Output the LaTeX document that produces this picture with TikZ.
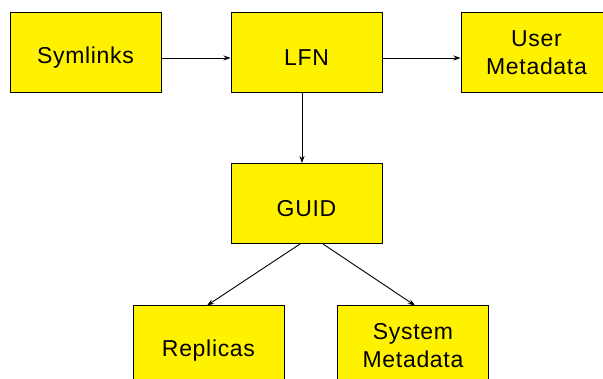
\documentclass[tikz,border=0pt]{standalone}
\usepackage{fontspec}
\setmainfont{Liberation Sans}[LetterSpace=3]
\usetikzlibrary{arrows.meta}
\newcommand{\lowtext}[1]{\raisebox{-5pt}[\height][\depth]{#1}}
\begin{document}
\begin{tikzpicture}[x=1pt,y=-1pt,
  box/.style={draw=black, line width=1pt, fill=yellow, minimum width=151pt, minimum height=80pt,
    inner sep=0pt, align=center, font=\fontsize{23}{28}\selectfont},
  conn/.style={draw=black, line width=0.9pt, -{Stealth[length=7pt,width=5pt]}}]
\useasboundingbox (0,0) rectangle (603,379);
\clip (0,0) rectangle (603,379);
\node[box] (sym) at (85.5,53) {\lowtext{Symlinks}};
\node[box] (lfn) at (306.5,53) {\lowtext{LFN}};
\node[box] (usr) at (536.5,53) {User\\Metadata};
\node[box] (guid) at (306.5,203.5) {\lowtext{GUID}};
\node[box] (rep) at (208.5,346) {\lowtext{Replicas}};
\node[box] (sys) at (413,346) {System\\Metadata};
\draw[conn] (sym.east |- 0,58) -- (lfn.west |- 0,58);
\draw[conn] (lfn.east |- 0,58) -- (usr.west |- 0,58);
\draw[conn] (lfn.south -| 302,0) -- (guid.north -| 302,0);
\draw[conn] (guid.south -| 300,0) -- (rep.north -| 207,0);
\draw[conn] (guid.south -| 323,0) -- (sys.north -| 415,0);
\end{tikzpicture}
\end{document}
